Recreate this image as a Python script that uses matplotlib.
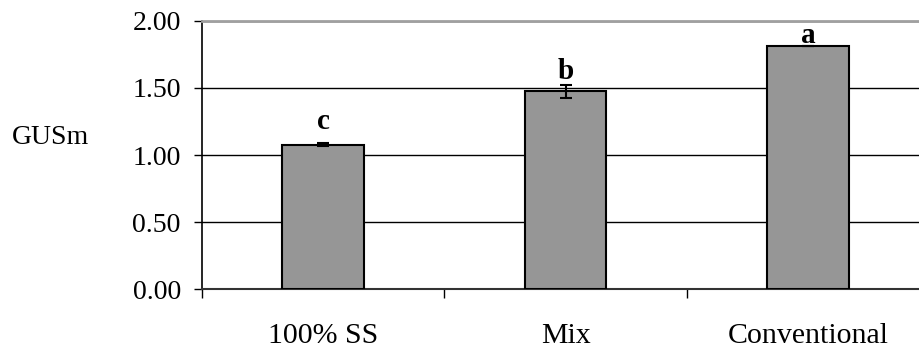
import matplotlib
matplotlib.use("Agg")
import matplotlib.pyplot as plt
from matplotlib.ticker import FixedLocator

# data
categories = ["100% SS", "Mix", "Conventional"]
values = [1.078, 1.474, 1.810]
errors = [0.010, 0.047, 0.0]
letters = ["c", "b", "a"]
yticks = [0.0, 0.5, 1.0, 1.5, 2.0]

# gap (points) between error bar top and the letter, as placed in the original
letter_gap = [10, 4, 2.5]

plt.rcParams['font.family'] = ['Liberation Serif', 'DejaVu Serif']

fig = plt.figure(figsize=(9.2, 3.49), dpi=100)
# plot area runs past the right edge of the picture, as in the reference
ax = fig.add_axes([0.2192, 0.171, 0.791, 0.7697])

x = list(range(len(categories)))
ax.bar(x, values, width=0.335, color="#969696", edgecolor="black",
       linewidth=1.5, zorder=3)
ax.errorbar(x, values, yerr=errors, fmt="none", ecolor="black",
            elinewidth=1.5, capsize=4.5, capthick=1.5, zorder=4)

for xi, v, e, lab, gap in zip(x, values, errors, letters, letter_gap):
    ax.annotate(lab, (xi, v + e), xytext=(0, gap), textcoords="offset points",
                ha="center", va="baseline", fontsize=21, fontweight="bold")

ax.set_xlim(-0.5, 2.5)
ax.set_ylim(0, 2)
ax.set_yticks(yticks)
ax.set_yticklabels(["{:.2f}".format(t) for t in yticks])
ax.set_xticks(x)
ax.set_xticklabels(categories)
ax.xaxis.set_minor_locator(FixedLocator([-0.5, 0.5, 1.5, 2.5]))

ax.tick_params(axis="y", which="major", length=6, width=1, pad=9,
               labelsize=20, direction="out")
ax.tick_params(axis="x", which="major", length=0, pad=24, labelsize=21.5)
ax.tick_params(axis="x", which="minor", length=6.5, width=1,
               direction="out")

ax.set_axisbelow(True)
ax.yaxis.grid(True, color="black", linewidth=1)
ax.xaxis.grid(False)

ax.spines["right"].set_visible(False)
ax.spines["top"].set_color("#a0a0a0")
ax.spines["top"].set_linewidth(2)
ax.spines["left"].set_linewidth(1.2)
ax.spines["bottom"].set_color("#333333")
ax.spines["bottom"].set_linewidth(1.5)

fig.text(51 / 920, 1 - 138 / 349, "GUSm", ha="center", va="center",
         fontsize=20)

fig.savefig("out.png", dpi=100)
